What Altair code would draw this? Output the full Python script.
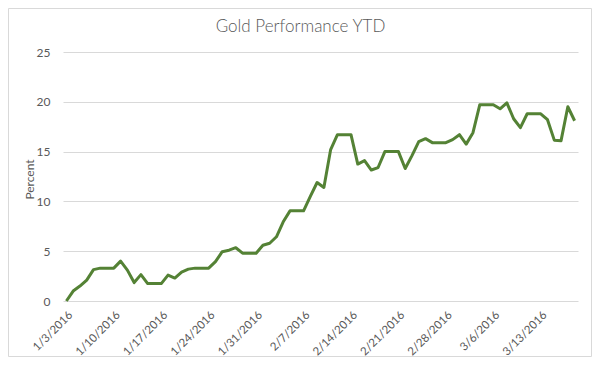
import altair as alt
import pandas as pd

# Categories: every calendar day from 1/3/2016 to 3/18/2016
dates = [f"{d.month}/{d.day}/{d.year}" for d in pd.date_range("2016-01-03", "2016-03-18")]

# Gold YTD performance, percent
percent = [
    0.0, 1.0, 1.5, 2.1, 3.15, 3.3, 3.3, 3.3, 4.0, 3.1,
    1.85, 2.65, 1.75, 1.75, 1.75, 2.6, 2.3, 2.9, 3.2, 3.3,
    3.3, 3.3, 3.95, 4.95, 5.1, 5.35, 4.8, 4.8, 4.8, 5.6,
    5.8, 6.45, 7.95, 9.05, 9.05, 9.05, 10.5, 11.9, 11.4, 15.2,
    16.7, 16.7, 16.7, 13.75, 14.1, 13.15, 13.4, 15.0, 15.0, 15.0,
    13.3, 14.6, 16.0, 16.3, 15.9, 15.9, 15.9, 16.2, 16.7, 15.75,
    16.9, 19.7, 19.7, 19.7, 19.3, 19.9, 18.3, 17.4, 18.8, 18.8,
    18.8, 18.2, 16.15, 16.1, 19.5, 18.1,
]

tick_labels = ["1/3/2016", "1/10/2016", "1/17/2016", "1/24/2016", "1/31/2016",
               "2/7/2016", "2/14/2016", "2/21/2016", "2/28/2016", "3/6/2016", "3/13/2016"]
y_ticks = [0, 5, 10, 15, 20, 25]
title_text = "Gold Performance YTD"

df = pd.DataFrame({"date": dates, "pct": percent})

PL, PT, PR, PB = 55, 44, 14, 56
W, H = 515, 249
FONT = "Lato"
TXT = "#595959"

line = alt.Chart(df).mark_line(color="#548235", strokeWidth=3, strokeJoin="round").encode(
    x=alt.X("date:O", sort=None,
            scale=alt.Scale(type="point", padding=0.5),
            axis=alt.Axis(values=tick_labels, labelAngle=-45, title=None, ticks=False,
                          domain=False, grid=False, labelFontSize=11.5, labelColor=TXT,
                          labelFont=FONT, labelPadding=8, labelBound=False)),
    y=alt.Y("pct:Q", scale=alt.Scale(domain=[0, 25], nice=False),
            axis=alt.Axis(values=y_ticks, title="Percent", grid=True, gridColor="#d9d9d9",
                          gridWidth=1, domain=False, ticks=False, labelPadding=13,
                          labelFontSize=12, labelColor=TXT, labelFont=FONT,
                          titleFont=FONT, titleFontSize=12, titleColor=TXT,
                          titleFontWeight="normal", titleX=-34, titleY=127,
                          titleBaseline="middle", titleAlign="center", titleAngle=270)),
)

one = pd.DataFrame({"t": [title_text]})

border = alt.Chart(one).mark_rect(
    fill=None, stroke="#d9d9d9", strokeWidth=1
).encode(
    x=alt.value(-PL + 0.5), x2=alt.value(W + PR - 0.5),
    y=alt.value(-PT + 0.5), y2=alt.value(H + PB - 0.5),
)

title = alt.Chart(one).mark_text(
    font=FONT, fontSize=17, fontWeight=300, color=TXT, align="center", baseline="middle"
).encode(
    text="t:N", x=alt.value(W / 2 - 20), y=alt.value(-25),
)

chart = alt.layer(border, line, title).properties(
    width=W, height=H,
    padding={"left": PL, "top": PT, "right": PR, "bottom": PB},
    autosize=alt.AutoSizeParams(type="none"),
).configure_view(stroke=None)

chart.save("out.html", embed_options={"renderer": "svg", "actions": False})
